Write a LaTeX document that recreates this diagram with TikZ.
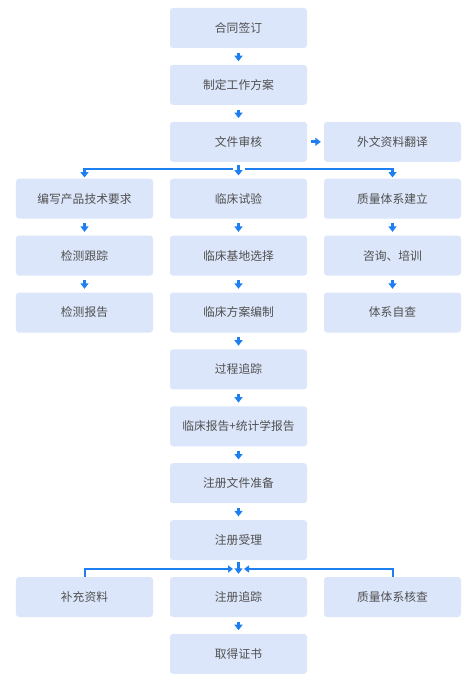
\documentclass[tikz,border=0pt]{standalone}
\usepackage{fontspec}
\setmainfont{Noto Sans CJK SC}
\usetikzlibrary{arrows.meta,calc}
\definecolor{boxfill}{HTML}{DCE6FA}
\definecolor{txt}{HTML}{4F4F4F}
\definecolor{arr}{HTML}{1E80F0}
\tikzset{
  stepbox/.style={rectangle, rounded corners=3bp, fill=boxfill, minimum width=137bp, minimum height=40bp, inner sep=0pt, text=txt, font=\fontsize{11.8}{14}\selectfont},
  arrow/.style={draw=arr, line width=3.2bp, -{Triangle[width=8bp,length=5.5bp]}},
  link/.style={draw=arr, line width=2bp},
  linkarr/.style={draw=arr, line width=2bp, -{Triangle[width=7bp,length=5bp]}}
}
\begin{document}
\begin{tikzpicture}[x=1bp,y=-1bp]
\useasboundingbox (0,0) rectangle (474,685);
\def\dy{56.9}
\node[stepbox] (n1) at (238.5,28) {合同签订};
\node[stepbox] (n2) at (238.5,{28+\dy}) {制定工作方案};
\node[stepbox] (n3) at (238.5,{28+2*\dy}) {文件审核};
\node[stepbox] (n3r) at (392.5,{28+2*\dy}) {外文资料翻译};
\node[stepbox] (l1) at (84.5,{28+3*\dy}) {编写产品技术要求};
\node[stepbox] (c1) at (238.5,{28+3*\dy}) {临床试验};
\node[stepbox] (r1) at (392.5,{28+3*\dy}) {质量体系建立};
\node[stepbox] (l2) at (84.5,{28+4*\dy}) {检测跟踪};
\node[stepbox] (c2) at (238.5,{28+4*\dy}) {临床基地选择};
\node[stepbox] (r2) at (392.5,{28+4*\dy}) {咨询、培训};
\node[stepbox] (l3) at (84.5,{28+5*\dy}) {检测报告};
\node[stepbox] (c3) at (238.5,{28+5*\dy}) {临床方案编制};
\node[stepbox] (r3) at (392.5,{28+5*\dy}) {体系自查};
\node[stepbox] (c4) at (238.5,{28+6*\dy}) {过程追踪};
\node[stepbox] (c5) at (238.5,{28+7*\dy}) {临床报告+统计学报告};
\node[stepbox] (c6) at (238.5,{28+8*\dy}) {注册文件准备};
\node[stepbox] (c7) at (238.5,{28+9*\dy}) {注册受理};
\node[stepbox] (b1) at (84.5,{28+10*\dy}) {补充资料};
\node[stepbox] (b2) at (238.5,{28+10*\dy}) {注册追踪};
\node[stepbox] (b3) at (392.5,{28+10*\dy}) {质量体系核查};
\node[stepbox] (b4) at (238.5,{28+11*\dy}) {取得证书};

% simple down arrows
\foreach \a/\b in {n1/n2,n2/n3,l1/l2,l2/l3,c1/c2,c2/c3,r1/r2,r2/r3,c3/c4,c4/c5,c5/c6,c6/c7,b2/b4}{
  \draw[arrow] ($(\a.south)+(0,4.5)$) -- ($(\b.north)+(0,-3.5)$);
}
% right arrow
\draw[arrow] ($(n3.east)+(4,0)$) -- ($(n3r.west)+(-3,0)$);

% branch
\coordinate (jy) at (0,169);
\coordinate (bl) at (l1.north |- jy);
\coordinate (br) at (r1.north |- jy);
\coordinate (gl) at (232.5,169);
\coordinate (gr) at (244.5,169);
\draw[link] (gl) -- (bl);
\draw[link] (gr) -- (br);
\draw[arrow] ($(n3.south)+(0,3)$) -- ($(c1.north)+(0,-3)$);
\draw[arrow] ($(bl)+(0,-1)$) -- ($(l1.north)+(0,-1)$);
\draw[arrow] ($(br)+(0,-1)$) -- ($(r1.north)+(0,-1)$);

% merge
\coordinate (my) at (0,569);
\coordinate (ml) at (b1.north |- my);
\coordinate (mr) at (b3.north |- my);
\coordinate (el) at (233,569);
\coordinate (er) at (244,569);
\draw[linkarr] (b1.north) -- (ml) -- (el);
\draw[linkarr] (b3.north) -- (mr) -- (er);
\draw[arrow] ($(c7.south)+(0,2)$) -- ($(b2.north)+(0,-3)$);
\end{tikzpicture}
\end{document}
